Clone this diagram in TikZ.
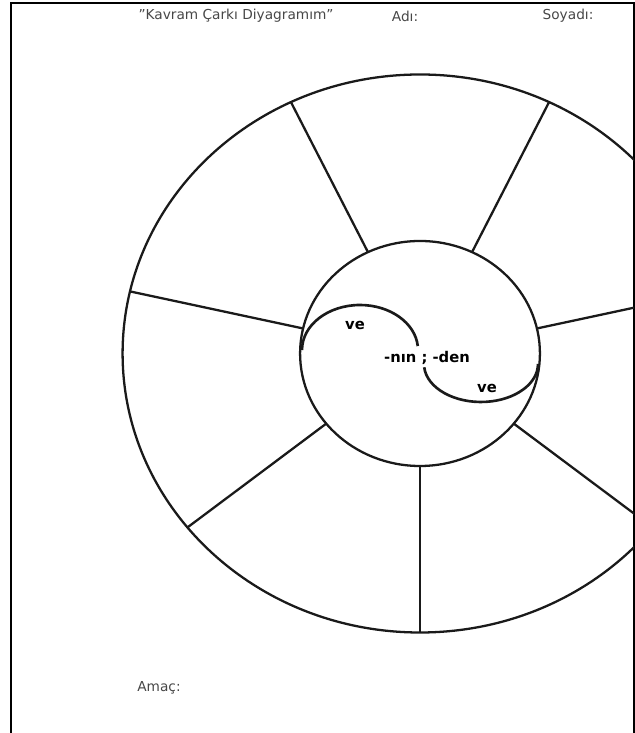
\documentclass[tikz,border=0pt]{standalone}
\usepackage{fontspec}
\setmainfont{DejaVu Sans}
\usetikzlibrary{positioning}
\definecolor{WheelInk}{HTML}{1A1A1A}
\definecolor{HeadGray}{HTML}{474747}
\tikzset{
  headtext/.style={font=\fontsize{7.8}{9}\selectfont, text=HeadGray, inner sep=0pt},
  hubtext/.style={font=\bfseries\fontsize{8.4}{10}\selectfont, text=black, inner sep=0pt},
  wheelline/.style={draw=WheelInk, line width=1.3pt},
  swirl/.style={draw=WheelInk, line width=1.5pt},
  framebox/.style={draw=black, line width=1.3pt}
}
\begin{document}
\begin{tikzpicture}[x=0.02cm, y=0.02cm]
\useasboundingbox (0,0) rectangle (635,733);
\draw[framebox] (11,0) -- (11,730) -- (634,730) -- (634,0);
\begin{scope}
\clip (11,0) rectangle (634,733);
\begin{scope}[shift={(420,379.5)}, xscale=1.066]
\coordinate (hubc) at (0,0);
\draw[wheelline] (hubc) circle (279);
\draw[wheelline] (hubc) circle (112.5);
\foreach \k in {0,...,6} {
  \coordinate (spin\k) at (-90+\k*360/7:112.5);
  \coordinate (spout\k) at (-90+\k*360/7:279);
  \draw[wheelline] (spin\k) -- (spout\k);
}
\end{scope}
\end{scope}
\draw[swirl] (302,383) arc[start angle=180, end angle=5, x radius=58, y radius=45];
\draw[swirl] (424.2,365.7) arc[start angle=185, end angle=360, x radius=57, y radius=38];
\node[headtext] (title) at (236,717) {\symbol{34}Kavram Çarkı Diyagramım\symbol{34}};
\node[headtext] (adi) at (405,717) {Adı:};
\node[headtext] (soyadi) at (568,717) {Soyadı:};
\node[headtext] (amac) at (159,45) {Amaç:};
\node[hubtext] (hub) at (427,375) {-nın ; -den};
\node[hubtext] (veup) at (355,408) {ve};
\node[hubtext] (vedown) at (487,345) {ve};
\end{tikzpicture}
\end{document}
